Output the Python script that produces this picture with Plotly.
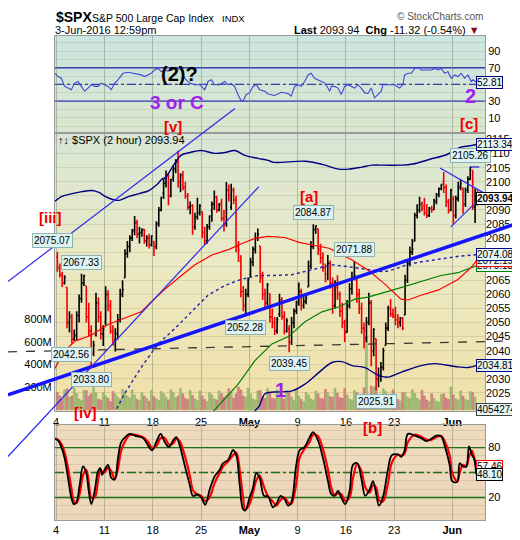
import plotly.graph_objects as go
import pandas as pd

FONT = "Liberation Sans, Arial, sans-serif"

# ---------------- data ----------------
day_tickvals = [0, 5, 10, 15, 20, 25, 30, 35, 41]
day_ticktext = ['4', '11', '18', '25', '<b>May</b>', '9', '16', '23', '<b>Jun</b>']
bars_per_day = [4] * 43 + [3]   # 2-hour bars, Apr 4 .. Jun 3 12:59

price_tickvals = list(range(2025, 2120, 5))
price_hidden = [2035, 2070, 2075, 2095]   # covered by the value boxes on the right

opens = [
    2073.2, 2069.5, 2067.0, 2064.0,   # Apr 4
    2062.5, 2050.0, 2052.0, 2044.0,   # Apr 5
    2045.6, 2052.5, 2058.5, 2064.0,   # Apr 6
    2063.0, 2052.0, 2047.0, 2039.0,   # Apr 7
    2045.5, 2057.0, 2052.0, 2046.0,   # Apr 8
    2050.2, 2060.0, 2056.0, 2047.0,   # Apr 11
    2043.7, 2046.0, 2051.0, 2060.0,   # Apr 12
    2065.9, 2074.5, 2077.0, 2080.0,   # Apr 13
    2082.9, 2085.5, 2081.5, 2082.0,   # Apr 14
    2083.1, 2079.0, 2080.0, 2077.5,   # Apr 15
    2078.8, 2077.0, 2085.0, 2090.0,   # Apr 18
    2096.0, 2099.5, 2102.0, 2095.0,   # Apr 19
    2101.5, 2104.5, 2107.0, 2100.0,   # Apr 20
    2102.1, 2098.0, 2095.0, 2091.0,   # Apr 21
    2091.5, 2084.0, 2087.5, 2089.0,   # Apr 22
    2089.4, 2082.0, 2079.0, 2084.0,   # Apr 25
    2089.8, 2092.0, 2094.5, 2090.0,   # Apr 26
    2092.6, 2087.0, 2085.0, 2097.0,   # Apr 27
    2090.9, 2097.0, 2093.5, 2077.0,   # Apr 28
    2071.8, 2061.0, 2056.0, 2060.0,   # Apr 29
    2067.2, 2071.5, 2076.0, 2080.0,   # May 2
    2077.2, 2066.0, 2060.0, 2057.0,   # May 3
    2060.3, 2052.0, 2050.0, 2047.0,   # May 4
    2053.0, 2058.0, 2052.0, 2047.0,   # May 5
    2047.8, 2043.0, 2050.0, 2054.0,   # May 6
    2057.6, 2061.0, 2056.0, 2057.5,   # May 9
    2062.6, 2070.0, 2077.0, 2083.0,   # May 10
    2083.3, 2076.0, 2073.0, 2069.5,   # May 11
    2067.2, 2071.0, 2064.0, 2056.0,   # May 12
    2062.5, 2060.0, 2054.0, 2050.0,   # May 13
    2046.5, 2056.0, 2062.0, 2066.0,   # May 16
    2065.0, 2060.0, 2055.0, 2048.0,   # May 17
    2044.4, 2050.0, 2057.0, 2040.0,   # May 18
    2044.2, 2030.0, 2031.0, 2034.0,   # May 19
    2041.9, 2048.0, 2055.0, 2053.0,   # May 20
    2052.2, 2051.0, 2050.0, 2051.5,   # May 23
    2052.7, 2065.0, 2071.0, 2075.0,   # May 24
    2078.9, 2088.0, 2090.0, 2092.0,   # May 25
    2091.4, 2089.0, 2088.0, 2090.5,   # May 26
    2090.1, 2093.0, 2095.5, 2097.5,   # May 27
    2100.1, 2098.0, 2093.0, 2090.0,   # May 31
    2093.9, 2088.0, 2094.0, 2098.0,   # Jun 1
    2097.7, 2092.0, 2097.0, 2101.0,   # Jun 2
    2104.1, 2091.0, 2095.0,           # Jun 3
]
highs = [
    2075.07, 2071.0, 2068.0, 2066.8,
    2062.5, 2054.0, 2053.0, 2047.5,
    2054.0, 2060.0, 2067.33, 2067.0,
    2063.0, 2057.0, 2049.0, 2043.5,
    2060.6, 2059.0, 2054.0, 2049.0,
    2062.9, 2061.5, 2058.0, 2049.0,
    2048.0, 2053.0, 2062.0, 2065.05,
    2076.0, 2079.0, 2081.0, 2083.2,
    2087.8, 2086.5, 2084.0, 2083.5,
    2083.2, 2081.0, 2081.5, 2081.0,
    2079.0, 2086.0, 2091.0, 2094.7,
    2101.0, 2104.0, 2103.0, 2101.0,
    2106.0, 2108.0, 2111.05, 2103.0,
    2103.8, 2100.0, 2096.0, 2093.0,
    2092.0, 2089.0, 2094.3, 2092.0,
    2089.4, 2084.0, 2085.0, 2088.0,
    2093.0, 2096.9, 2095.0, 2092.5,
    2094.0, 2090.0, 2099.9, 2099.0,
    2099.3, 2098.0, 2095.0, 2079.0,
    2073.9, 2063.0, 2062.0, 2066.0,
    2073.0, 2077.0, 2082.0, 2083.4,
    2077.2, 2068.0, 2062.0, 2064.0,
    2060.3, 2055.0, 2052.0, 2052.0,
    2060.2, 2059.0, 2054.0, 2051.5,
    2049.0, 2052.0, 2055.0, 2057.7,
    2064.2, 2062.0, 2059.0, 2060.0,
    2072.0, 2079.0, 2084.87, 2084.5,
    2083.3, 2078.0, 2075.0, 2071.0,
    2074.0, 2072.0, 2066.0, 2065.0,
    2066.8, 2061.0, 2057.0, 2051.0,
    2058.0, 2064.0, 2068.0, 2071.88,
    2065.7, 2062.0, 2057.0, 2050.0,
    2052.0, 2060.6, 2058.0, 2048.0,
    2044.2, 2034.0, 2036.0, 2041.0,
    2050.0, 2056.0, 2058.4, 2055.0,
    2055.6, 2053.0, 2052.0, 2052.0,
    2067.0, 2072.0, 2077.0, 2079.7,
    2089.0, 2092.0, 2094.7, 2093.0,
    2094.3, 2092.0, 2091.0, 2091.5,
    2094.0, 2096.0, 2098.0, 2099.1,
    2103.5, 2099.0, 2094.0, 2097.5,
    2095.0, 2095.0, 2100.0, 2101.0,
    2098.0, 2098.0, 2102.0, 2105.26,
    2104.1, 2097.5, 2097.0,
]
lows = [
    2068.0, 2066.0, 2062.6, 2063.5,
    2048.0, 2046.5, 2042.56, 2043.5,
    2043.8, 2050.0, 2057.0, 2063.0,
    2050.0, 2045.0, 2033.80, 2038.0,
    2045.0, 2050.0, 2044.0, 2041.7,
    2049.0, 2054.0, 2046.0, 2041.9,
    2039.7, 2044.0, 2050.0, 2059.0,
    2065.9, 2073.0, 2075.0, 2079.0,
    2081.0, 2080.0, 2078.1, 2080.5,
    2078.0, 2077.0, 2076.3, 2077.0,
    2073.65, 2076.0, 2084.0, 2089.5,
    2094.0, 2098.0, 2091.7, 2094.5,
    2100.0, 2103.0, 2098.0, 2096.3,
    2097.0, 2094.0, 2090.0, 2088.5,
    2081.2, 2083.0, 2086.5, 2088.0,
    2080.0, 2077.5, 2078.0, 2083.0,
    2085.8, 2090.0, 2089.0, 2089.5,
    2086.0, 2082.3, 2084.0, 2093.0,
    2090.0, 2092.0, 2075.0, 2071.6,
    2059.0, 2054.0, 2052.28, 2059.0,
    2066.1, 2070.0, 2074.5, 2079.0,
    2064.0, 2058.0, 2054.9, 2056.0,
    2050.0, 2048.0, 2045.6, 2046.0,
    2052.0, 2051.0, 2045.8, 2046.5,
    2039.45, 2042.0, 2048.0, 2053.0,
    2056.0, 2054.3, 2055.0, 2056.5,
    2062.6, 2069.0, 2076.0, 2081.5,
    2074.0, 2071.0, 2068.0, 2064.5,
    2065.0, 2062.0, 2053.1, 2055.0,
    2058.0, 2052.0, 2048.0, 2043.1,
    2046.5, 2055.0, 2060.0, 2065.0,
    2057.0, 2053.0, 2046.0, 2040.8,
    2043.0, 2049.0, 2034.5, 2038.0,
    2025.91, 2027.0, 2029.0, 2033.0,
    2041.9, 2047.0, 2052.0, 2051.5,
    2049.0, 2048.0, 2048.5, 2047.3,
    2052.7, 2064.0, 2070.0, 2074.0,
    2078.9, 2087.0, 2089.0, 2089.5,
    2088.0, 2087.1, 2087.5, 2089.0,
    2090.1, 2092.0, 2094.5, 2097.0,
    2096.0, 2091.0, 2088.7, 2089.5,
    2085.1, 2087.0, 2093.0, 2097.0,
    2088.6, 2091.0, 2096.0, 2100.5,
    2090.0, 2085.4, 2091.5,
]
closes = [
    2069.5, 2067.0, 2064.0, 2066.1,
    2050.0, 2052.0, 2044.0, 2045.2,
    2052.5, 2058.5, 2064.0, 2066.7,
    2052.0, 2047.0, 2039.0, 2041.9,
    2057.0, 2052.0, 2046.0, 2047.6,
    2060.0, 2056.0, 2047.0, 2042.0,
    2046.0, 2051.0, 2060.0, 2061.7,
    2074.5, 2077.0, 2080.0, 2082.4,
    2085.5, 2081.5, 2082.0, 2082.8,
    2079.0, 2080.0, 2077.5, 2080.7,
    2077.0, 2085.0, 2090.0, 2094.3,
    2099.5, 2102.0, 2095.0, 2100.8,
    2104.5, 2107.0, 2100.0, 2102.4,
    2098.0, 2095.0, 2091.0, 2091.5,
    2084.0, 2087.5, 2089.0, 2091.6,
    2082.0, 2079.0, 2084.0, 2087.8,
    2092.0, 2094.5, 2090.0, 2091.7,
    2087.0, 2085.0, 2097.0, 2095.2,
    2097.0, 2093.5, 2077.0, 2075.8,
    2061.0, 2056.0, 2060.0, 2065.3,
    2071.5, 2076.0, 2080.0, 2081.4,
    2066.0, 2060.0, 2057.0, 2063.4,
    2052.0, 2050.0, 2047.0, 2051.1,
    2058.0, 2052.0, 2047.0, 2050.6,
    2043.0, 2050.0, 2054.0, 2057.1,
    2061.0, 2056.0, 2057.5, 2058.7,
    2070.0, 2077.0, 2083.0, 2084.4,
    2076.0, 2073.0, 2069.5, 2064.5,
    2071.0, 2064.0, 2056.0, 2064.1,
    2060.0, 2054.0, 2050.0, 2046.6,
    2056.0, 2062.0, 2066.0, 2066.7,
    2060.0, 2055.0, 2048.0, 2047.2,
    2050.0, 2057.0, 2040.0, 2047.6,
    2030.0, 2031.0, 2034.0, 2040.0,
    2048.0, 2055.0, 2053.0, 2052.3,
    2051.0, 2050.0, 2051.5, 2048.0,
    2065.0, 2071.0, 2075.0, 2076.1,
    2088.0, 2090.0, 2092.0, 2090.5,
    2089.0, 2088.0, 2090.5, 2090.1,
    2093.0, 2095.5, 2097.5, 2099.1,
    2098.0, 2093.0, 2090.0, 2097.0,
    2088.0, 2094.0, 2098.0, 2099.3,
    2092.0, 2097.0, 2101.0, 2105.26,
    2091.0, 2095.0, 2093.94,
]
volumes_m = [
    150, 120, 90, 175,   185, 110, 120, 190,   140, 95, 80, 170,
    170, 120, 140, 195,  150, 90, 85, 150,     120, 100, 70, 160,
    140, 110, 95, 180,   160, 120, 100, 175,   130, 90, 80, 150,
    120, 100, 75, 170,   115, 95, 80, 160,     140, 110, 85, 175,
    150, 105, 120, 185,  140, 100, 90, 170,    125, 95, 80, 165,
    120, 90, 70, 150,    130, 95, 85, 165,     140, 110, 130, 185,
    150, 100, 140, 200,  175, 120, 110, 190,   140, 95, 85, 165,
    170, 115, 100, 185,  150, 100, 95, 175,    140, 105, 90, 170,
    150, 110, 85, 180,   120, 90, 70, 150,     130, 95, 85, 165,
    140, 100, 95, 180,   150, 115, 110, 190,   145, 105, 100, 185,
    130, 95, 85, 170,    150, 110, 125, 195,   650, 120, 210, 200,
    190, 130, 110, 185,  160, 110, 95, 175,    120, 90, 75, 150,
    150, 110, 95, 175,   140, 100, 85, 170,    120, 85, 70, 140,
    100, 75, 65, 135,    140, 100, 90, 200,    130, 95, 85, 165,
    120, 90, 80, 160,    150, 110, 4.054274,
]

# overlays on the price panel (x in trading days from Apr 4)
bb_up_x = [-0.12, 0.60, 1.64, 2.68, 3.71, 4.43, 5.06, 5.78, 6.51, 7.54, 8.58, 9.61, 10.44, 10.96,
           11.27, 12.30, 12.92, 13.86, 15.0, 16.44, 17.48, 18.51, 19.55, 20.89, 21.93, 22.55, 25.76,
           27.52, 29.28, 30.31, 31.66, 32.70, 33.94, 35.6, 36.94, 38.70, 40.46, 41.81, 42.84, 43.57]
bb_up = [2093.1, 2094.8, 2095.8, 2096.5, 2096.9, 2096.2, 2094.8, 2093.8, 2093.4, 2094.8, 2095.8,
         2096.9, 2099.0, 2101.0, 2101.4, 2106.6, 2109.4, 2110.4, 2111.1, 2110.1, 2110.4, 2111.1,
         2109.4, 2108.3, 2107.6, 2106.9, 2107.3, 2106.2, 2104.5, 2104.5, 2105.2, 2105.9, 2105.9,
         2105.9, 2106.3, 2108.0, 2109.7, 2112.2, 2112.8, 2113.34]
bb_lo_x = [20.17, 20.99, 21.62, 22.55, 24.41, 25.76, 27.21, 28.56, 29.59, 30.63, 31.97, 33.32,
           34.35, 35.70, 37.77, 39.22, 41.29, 42.63, 43.57]
bb_lo = [2017.4, 2020.1, 2024.7, 2025.3, 2025.7, 2028.1, 2032.3, 2035.8, 2036.1, 2034.7, 2034.0,
         2031.3, 2030.6, 2032.3, 2034.7, 2035.4, 2034.4, 2034.0, 2034.81]
ma_red_x = [-0.12, 0.71, 1.95, 3.61, 5.37, 7.13, 8.79, 9.92, 11.16, 12.72, 14.37, 16.13, 17.89,
            19.24, 20.58, 21.93, 23.69, 25.14, 26.79, 28.24, 29.28, 30.63, 32.38, 33.94, 35.70,
            36.42, 37.77, 39.53, 41.60, 42.95, 43.57]
ma_red = [2033.7, 2039.2, 2043.4, 2045.5, 2049.3, 2051.7, 2053.8, 2057.6, 2061.5, 2066.0, 2070.5,
          2074.0, 2076.0, 2078.1, 2079.9, 2080.6, 2080.2, 2078.5, 2077.4, 2076.4, 2074.7, 2072.2,
          2068.4, 2063.9, 2058.3, 2058.0, 2059.7, 2061.5, 2065.3, 2069.5, 2072.19]
ma_dot_x = [5.68, 7.13, 8.79, 10.54, 12.30, 14.06, 15.72, 17.48, 19.13, 20.89, 22.55, 24.41,
            26.49, 28.56, 30.31, 32.28, 33.94, 34.87, 36.32, 37.67, 40.46, 41.81, 43.57]
ma_dot = [2015.6, 2025.0, 2034.0, 2042.4, 2047.9, 2053.8, 2059.7, 2063.2, 2065.3, 2066.7, 2066.7,
          2067.0, 2068.8, 2070.5, 2069.8, 2068.8, 2068.0, 2068.8, 2070.5, 2071.5, 2072.9, 2073.6,
          2074.08]
ma_green_x = [15.51, 17.06, 18.82, 20.58, 22.34, 24.10, 25.76, 27.52, 29.28, 30.93, 32.28, 35.08,
              37.46, 39.84, 41.60, 43.46]
ma_green = [2015.6, 2021.5, 2028.0, 2036.5, 2042.4, 2045.1, 2050.3, 2053.8, 2055.6, 2058.3, 2059.0,
            2061.8, 2064.2, 2066.7, 2067.7, 2070.13]

# RSI (top panel)
rsi_x = [-0.12, 0.19, 0.53, 0.88, 1.23, 1.57, 1.92, 2.26, 2.60, 2.95,
         3.30, 3.64, 3.99, 4.33, 4.67, 5.02, 5.37, 5.71, 6.06, 6.40,
         6.92, 7.44, 8.13, 8.81, 9.17, 9.51, 9.85, 10.20, 10.54, 10.88,
         11.24, 11.6, 12.0, 12.4, 12.95, 13.3, 13.82, 14.34, 14.86, 15.38,
         15.72, 16.06, 16.41, 16.93, 17.45, 17.79, 18.13, 18.48, 18.82, 19.17,
         19.34, 19.68, 20.03, 20.38, 20.72, 21.07, 21.59, 21.93, 22.62, 23.31,
         24.0, 24.34, 24.69, 25.03, 25.38, 25.73, 26.07, 26.41, 26.76, 27.11,
         27.45, 27.80, 28.14, 28.32, 28.49, 28.83, 29.18, 29.52, 29.87, 30.21,
         30.90, 31.25, 31.59, 31.94, 32.28, 32.62, 32.97, 33.32, 33.66, 33.83,
         34.35, 35.04, 35.56, 35.90, 36.08, 36.42, 36.77, 37.12, 37.46, 37.80,
         38.84, 39.19, 39.53, 39.87, 40.22, 40.56, 40.91, 41.25, 41.60, 41.94,
         42.29, 42.63, 42.98, 43.15, 43.49]
rsi_val = [63.3, 59.4, 57.4, 47.6, 45.6, 43.7, 51.6, 53.5, 47.6, 41.8,
           45.6, 49.6, 47.6, 47.6, 51.6, 49.6, 47.6, 43.7, 51.6, 55.5,
           63.3, 64.5, 63.3, 61.4, 59.4, 61.4, 63.3, 67.3, 69.2, 65.3,
           67.3, 66.0, 68.5, 70.0, 67.3, 57.4, 51.6, 49.6, 49.6, 43.7,
           53.5, 55.5, 49.6, 49.6, 53.5, 49.6, 50.8, 47.6, 37.9, 30.0,
           30.0, 37.9, 39.8, 47.6, 49.6, 43.7, 41.8, 38.5, 36.7, 40.6,
           39.1, 35.9, 47.6, 49.6, 47.6, 53.5, 61.4, 63.3, 57.4, 55.5,
           53.5, 51.6, 45.6, 41.8, 47.6, 47.6, 45.6, 37.9, 47.6, 49.6,
           45.6, 49.6, 45.6, 39.8, 39.1, 45.6, 33.9, 37.9, 41.8, 49.6,
           49.6, 49.6, 45.6, 49.6, 61.4, 63.3, 63.3, 69.2, 70.4, 67.3,
           67.3, 69.2, 67.3, 69.2, 63.3, 65.3, 57.4, 61.4, 59.4, 63.3,
           57.4, 61.4, 53.5, 55.5, 52.81]

# Slow stochastic %K (bottom panel)
stoch_x = [-0.15, 0.19, 0.53, 0.88, 1.23, 1.57, 1.82, 2.09, 2.44, 2.78,
           3.12, 3.37, 3.64, 3.99, 4.33, 4.57, 4.75, 5.02, 5.37, 5.71,
           6.06, 6.40, 6.74, 7.26, 7.61, 8.30, 9.0, 9.51, 9.92, 10.37,
           10.82, 11.24, 11.68, 12.10, 12.44, 12.79, 13.30, 13.82, 14.17, 14.68,
           15.03, 15.44, 15.90, 16.41, 16.93, 17.27, 17.79, 18.31, 18.65, 19.0,
           19.34, 19.58, 20.03, 20.38, 20.72, 21.07, 21.52, 21.93, 22.45, 22.79,
           23.24, 23.66, 24.0, 24.34, 24.86, 25.21, 25.73, 26.25, 26.59, 27.11,
           27.63, 28.14, 28.49, 28.83, 29.18, 29.52, 29.93, 30.38, 30.73, 31.17,
           31.59, 32.0, 32.46, 32.80, 33.14, 33.42, 33.83, 34.35, 34.76, 35.39,
           35.73, 36.08, 36.42, 37.12, 37.80, 38.32, 38.84, 39.36, 39.87, 40.22,
           40.74, 41.01, 41.53, 41.78, 42.12, 42.46, 42.74, 43.05, 43.26, 43.49]
stoch_k = [90.6, 88.6, 80.8, 67.1, 43.5, 20.0, 12.2, 14.1, 35.7, 57.3,
           49.4, 27.9, 12.2, 27.9, 51.4, 55.3, 47.4, 53.3, 59.2, 43.5,
           41.6, 67.1, 86.7, 93.8, 96.5, 93.8, 91.4, 82.7, 76.8, 86.7,
           96.5, 86.7, 80.8, 88.6, 92.6, 82.7, 59.2, 35.7, 22.0, 23.9,
           20.0, 11.4, 29.8, 45.5, 53.3, 61.2, 65.1, 76.8, 70.9, 35.7,
           6.3, 4.3, 20.0, 31.8, 49.4, 43.5, 22.0, 21.5, 8.3, 12.2,
           22.0, 18.0, 10.2, 14.1, 59.2, 76.8, 80.8, 92.6, 98.5, 88.6,
           67.1, 39.7, 23.9, 22.0, 27.9, 20.0, 12.2, 27.9, 59.2, 61.2,
           43.5, 22.0, 29.8, 39.7, 23.9, 10.2, 20.0, 53.3, 70.9, 71.8,
           69.0, 76.8, 96.5, 94.5, 91.4, 87.9, 90.6, 94.5, 93.3, 82.7,
           59.2, 39.7, 38.8, 61.2, 57.3, 57.3, 81.5, 70.9, 66.82, 48.10]

# price labels: bar index, high (True) / low (False)
label_bar_idx = [0, 10, 6, 14, 78, 106, 123, 96, 132, 171]
label_is_high = [True, True, False, False, False, True, True, False, False, True]

# trendlines drawn on the chart (day, price) pairs
trend_thick = [(-4.99, 2024.3), (48.84, 2086.5)]
trend_upper = [(-4.99, 2064.6), (18.51, 2126.0)]
trend_lower = [(-4.99, 2002.4), (20.99, 2098.3)]
tri_upper = [(39.74, 2104.9), (44.39, 2095.8)]
tri_lower = [(40.87, 2084.0), (44.39, 2095.8)]
support_dash = [(-4.99, 2039.6), (46.77, 2043.4)]

assert len(opens) == len(highs) == len(lows) == len(closes) == len(volumes_m) == sum(bars_per_day)
assert len(rsi_x) == len(rsi_val) and len(stoch_x) == len(stoch_k)

# ---------------- geometry ----------------
RSI_DOM = [0.80, 1.0]
PRICE_DOM = [0.2242, 0.80]
STO_DOM = [0.0, 0.196]
X_RANGE = [-0.12, 44.4]
P_RANGE = [2018.4, 2117.4]
V_RANGE = [-17e6, 2460e6]
RSI_RANGE = [-8, 108]
STO_RANGE = [-7, 107]
PW, PH = 430, 495  # plot area pixels


def xpap(d):
    return (d - X_RANGE[0]) / (X_RANGE[1] - X_RANGE[0])


def ypap(p):
    return PRICE_DOM[0] + (p - P_RANGE[0]) / (P_RANGE[1] - P_RANGE[0]) * (PRICE_DOM[1] - PRICE_DOM[0])


def pxp(px, py):
    return (px - 47) / PW, (523 - py) / PH


bar_x = []
for d, n in enumerate(bars_per_day):
    for k in range(n):
        bar_x.append(d + (k + 0.5) / 4)

up = [closes[i] >= (closes[i - 1] if i else opens[0]) for i in range(len(closes))]

fig = go.Figure()

# volume (base axis of the middle panel)
fig.add_trace(go.Bar(
    x=bar_x, y=[v * 1e6 for v in volumes_m], width=0.19,
    marker=dict(color=['#A9C47F' if u else '#DC8C92' for u in up],
                line=dict(color=['#7E9F55' if u else '#B85C64' for u in up], width=0.5)),
    xaxis='x', yaxis='y', hoverinfo='skip'))

# price bars
for want_up, col in ((True, '#000000'), (False, '#F00000')):
    idx = [i for i, u in enumerate(up) if u == want_up]
    fig.add_trace(go.Ohlc(
        x=[bar_x[i] for i in idx], open=[opens[i] for i in idx], high=[highs[i] for i in idx],
        low=[lows[i] for i in idx], close=[closes[i] for i in idx],
        increasing=dict(line=dict(color=col, width=1.6)),
        decreasing=dict(line=dict(color=col, width=1.6)),
        tickwidth=0.5, xaxis='x', yaxis='y2', hoverinfo='skip'))

# overlays
fig.add_trace(go.Scatter(x=ma_green_x, y=ma_green, mode='lines', line=dict(color='#008000', width=1.2),
                         xaxis='x', yaxis='y2', hoverinfo='skip'))
fig.add_trace(go.Scatter(x=ma_dot_x, y=ma_dot, mode='lines', line=dict(color='#2020B0', width=1.4, dash='dot'),
                         xaxis='x', yaxis='y2', hoverinfo='skip'))
fig.add_trace(go.Scatter(x=ma_red_x, y=ma_red, mode='lines', line=dict(color='#FF0000', width=1.2),
                         xaxis='x', yaxis='y2', hoverinfo='skip'))
for bx, by in ((bb_up_x, bb_up), (bb_lo_x, bb_lo)):
    fig.add_trace(go.Scatter(x=bx, y=by, mode='lines', line=dict(color='#000080', width=1.4, shape='spline'),
                             xaxis='x', yaxis='y2', hoverinfo='skip'))

# RSI
fig.add_trace(go.Scatter(x=rsi_x, y=rsi_val, mode='lines', line=dict(color='#3A48D8', width=1.1),
                         xaxis='x2', yaxis='y3', hoverinfo='skip'))

# stochastics
stoch_d = pd.Series(stoch_k).rolling(2, min_periods=1).mean().tolist()
fig.add_trace(go.Scatter(x=stoch_x, y=stoch_d, mode='lines', line=dict(color='#FF0000', width=2.2, shape='spline'),
                         xaxis='x3', yaxis='y4', hoverinfo='skip'))
fig.add_trace(go.Scatter(x=stoch_x, y=stoch_k, mode='lines', line=dict(color='#000000', width=1.8, shape='spline'),
                         xaxis='x3', yaxis='y4', hoverinfo='skip'))

# ---------------- backgrounds ----------------
shapes = []


def gradient(dom, stops, n=24):
    for i in range(n):
        t0, t1 = i / n, (i + 1) / n
        tm = (t0 + t1) / 2
        for (ta, ca), (tb, cb) in zip(stops[:-1], stops[1:]):
            if ta <= tm <= tb:
                f = (tm - ta) / (tb - ta)
                c = tuple(round(ca[j] + (cb[j] - ca[j]) * f) for j in range(3))
                break
        y1 = dom[1] - t0 * (dom[1] - dom[0])
        y0 = dom[1] - t1 * (dom[1] - dom[0])
        shapes.append(dict(type='rect', xref='paper', yref='paper', x0=0, x1=1, y0=y0 - 0.0005, y1=y1 + 0.0005,
                           fillcolor='rgb(%d,%d,%d)' % c, line=dict(width=0), layer='below'))


gradient(RSI_DOM, [(0, (203, 229, 224)), (1, (218, 230, 206))])
gradient(PRICE_DOM, [(0, (216, 230, 214)), (0.45, (234, 233, 196)), (1, (242, 224, 168))])
gradient(STO_DOM, [(0, (238, 218, 190)), (1, (237, 216, 186))], n=2)

# reference lines
for yv, dash in ((70, 'solid'), (30, 'solid'), (50, 'dashdot')):
    shapes.append(dict(type='line', xref='x2 domain', yref='y3', x0=0, x1=1, y0=yv, y1=yv,
                       line=dict(color='#2A2AB8', width=1.4, dash=dash), layer='below'))
for yv, dash in ((80, 'solid'), (20, 'solid'), (50, 'dashdot')):
    shapes.append(dict(type='line', xref='x3 domain', yref='y4', x0=0, x1=1, y0=yv, y1=yv,
                       line=dict(color='#006400', width=1.4, dash=dash), layer='below'))


def seg(pts, color, width, dash='solid'):
    (d0, p0), (d1, p1) = pts
    shapes.append(dict(type='line', xref='paper', yref='paper', x0=xpap(d0), y0=ypap(p0),
                       x1=xpap(d1), y1=ypap(p1), line=dict(color=color, width=width, dash=dash)))


seg(support_dash, '#3A3A30', 1.3, 'dash')
seg(trend_thick, '#1414FF', 3.5)
seg(trend_upper, '#2A2AF0', 1.2)
seg(trend_lower, '#2A2AF0', 1.2)
seg(tri_upper, '#2A2AF0', 1.2)
seg(tri_lower, '#2A2AF0', 1.2)
hi = highs[171]
seg([(bar_x[171], hi), (44.55, hi)], '#2020D0', 1.2, 'dash')

# ---------------- annotations ----------------
ann = []


def txt(px, py, text, size, color='#000000', xanchor='center', bold=False):
    x, y = pxp(px, py)
    ann.append(dict(xref='paper', yref='paper', x=x, y=y, xanchor=xanchor, yanchor='middle',
                    text=('<b>%s</b>' % text) if bold else text, showarrow=False,
                    font=dict(family=FONT, size=size, color=color)))


# header
txt(46, 9, '$SPX', 14, bold=True, xanchor='left')
txt(82, 10, 'S&P 500 Large Cap Index', 10.5, xanchor='left')
txt(212, 10, 'INDX', 9.5, xanchor='left')
txt(45, 22, '3-Jun-2016 12:59pm', 11, xanchor='left')
txt(477, 8, '© StockCharts.com', 10, color='#555555', xanchor='right')
txt(474, 22, '<b>Last</b> %.2f  <b>Chg</b> -11.32 (-0.54%%) <span style="color:#8B0A2A">▼</span>' % closes[-1],
    11, xanchor='right')
txt(48, 134, '↑↓ $SPX (2 hour) %.2f' % closes[-1], 11, xanchor='left')

# wave labels
PURPLE = '#A020F0'
RED = '#EE0000'
txt(171, 67, '(2)?', 20, bold=True)
txt(169, 96, '3 or C', 19, color=PURPLE, bold=True)
txt(462, 89, '2', 20, color=PURPLE, bold=True)
txt(272, 390, '1', 20, color=PURPLE, bold=True)
txt(165, 121, '[v]', 15, color=RED, bold=True)
txt(42, 214, '[iii]', 15, color=RED, bold=True)
txt(77, 413, '[iv]', 15, color=RED, bold=True)
txt(301, 192, '[a]', 15, color=RED, bold=True)
txt(364, 428, '[b]', 15, color=RED, bold=True)
txt(461, 118, '[c]', 15, color=RED, bold=True)

# price labels on highs / lows
xshift_over = {0: -5}
for n, (i, is_hi) in enumerate(zip(label_bar_idx, label_is_high)):
    p = highs[i] if is_hi else lows[i]
    ann.append(dict(xref='x', yref='y2', x=bar_x[i], y=p, text='%.2f' % p, showarrow=False,
                    yanchor='bottom' if is_hi else 'top', yshift=4 if is_hi else -4,
                    xshift=xshift_over.get(n, 0),
                    bgcolor='#DDF3F3', bordercolor='#8FB2B2', borderwidth=1, borderpad=1,
                    font=dict(family=FONT, size=10, color='#000000')))


def rbox(yref, y, text, border, bold=False, bg='#E6F6F6'):
    ann.append(dict(xref='paper', x=1.0, xanchor='left', xshift=-9, yref=yref, y=y, yanchor='middle',
                    text=('<b>%s</b>' % text) if bold else text, showarrow=False,
                    bgcolor=bg, bordercolor=border, borderwidth=1, borderpad=0,
                    font=dict(family=FONT, size=10, color='#000000')))


rbox('y2', bb_up[-1], '%.2f' % bb_up[-1], '#000080')
rbox('y2', ma_green[-1], '%.2f' % ma_green[-1], '#008000')
rbox('y2', ma_red[-1], '%.2f' % ma_red[-1], '#FF0000')
rbox('y2', ma_dot[-1], '%.2f' % ma_dot[-1], '#000080')
rbox('y2', bb_lo[-1], '%.2f' % bb_lo[-1], '#000080')
rbox('y2', closes[-1], '%.2f' % closes[-1], '#000000', bold=True, bg='#FFFFFF')
rbox('y', volumes_m[-1] * 1e6, '%d' % round(volumes_m[-1] * 1e6), '#404040')
rbox('y3', rsi_val[-1], '%.2f' % rsi_val[-1], '#000080')
rbox('y4', stoch_d[-1], '%.2f' % stoch_d[-1], '#FF0000', bg='#FFF4F4')
rbox('y4', stoch_k[-1], '%.2f' % stoch_k[-1], '#000000')

# ---------------- axes ----------------
GRID_V = 'rgba(120,130,110,0.45)'
GRID_H = 'rgba(140,140,110,0.22)'
LINE = '#9A9A9A'
tickfont = dict(family=FONT, size=11, color='#000000')

xcommon = dict(range=X_RANGE, tickvals=day_tickvals, ticktext=day_ticktext, showgrid=True,
               gridcolor=GRID_V, gridwidth=1, zeroline=False, ticks='', showline=True,
               linecolor=LINE, mirror=True, tickfont=tickfont, fixedrange=True)

fig.update_layout(
    width=520, height=540, margin=dict(l=47, r=43, t=28, b=17),
    paper_bgcolor='white', plot_bgcolor='rgba(0,0,0,0)', showlegend=False,
    font=dict(family=FONT, size=11, color='#000000'),
    xaxis=dict(domain=[0, 1], anchor='y', rangeslider=dict(visible=False), **xcommon),
    xaxis2=dict(domain=[0, 1], anchor='y3', matches='x', showticklabels=False,
                **{k: v for k, v in xcommon.items() if k not in ('tickvals', 'ticktext')},
                tickvals=day_tickvals),
    xaxis3=dict(domain=[0, 1], anchor='y4', matches='x', **xcommon),
    yaxis=dict(domain=PRICE_DOM, anchor='x', side='left', range=V_RANGE,
               tickvals=[2e8, 4e8, 6e8, 8e8], ticktext=['200M', '400M', '600M', '800M'],
               showgrid=False, zeroline=False, ticks='', showline=True, linecolor=LINE, mirror=True,
               tickfont=tickfont),
    yaxis2=dict(overlaying='y', anchor='x', side='right', range=P_RANGE,
                tickvals=price_tickvals,
                ticktext=['' if v in price_hidden else str(v) for v in price_tickvals],
                showgrid=True, gridcolor=GRID_H,
                zeroline=False, ticks='', tickfont=tickfont, showline=False),
    yaxis3=dict(domain=RSI_DOM, anchor='x2', side='right', range=RSI_RANGE,
                tickvals=list(range(0, 101, 10)),
                ticktext=['', '10', '', '30', '', '', '', '70', '', '90', ''],
                showgrid=True, gridcolor=GRID_H, zeroline=False, ticks='', showline=True,
                linecolor=LINE, mirror=True, tickfont=tickfont),
    yaxis4=dict(domain=STO_DOM, anchor='x3', side='right', range=STO_RANGE,
                tickvals=list(range(0, 101, 10)),
                ticktext=['', '', '20', '', '', '', '', '', '80', '', ''],
                showgrid=True, gridcolor=GRID_H, zeroline=False, ticks='', showline=True,
                linecolor=LINE, mirror=True, tickfont=tickfont),
    shapes=shapes, annotations=ann,
)

fig.write_html("out.html")
